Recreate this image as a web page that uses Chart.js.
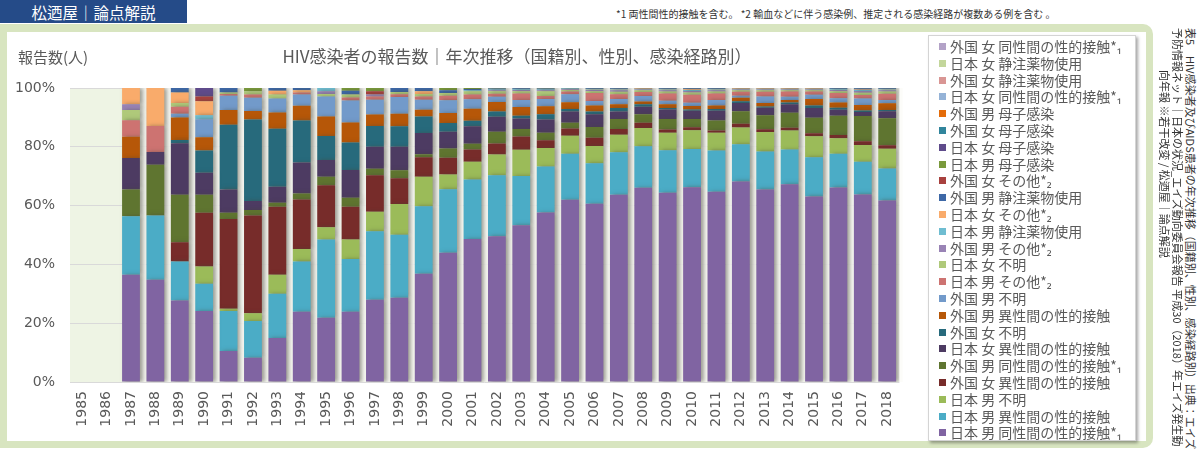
<!DOCTYPE html>
<html><head><meta charset="utf-8">
<script src="https://cdn.jsdelivr.net/npm/chart.js@4/dist/chart.umd.min.js"></script>
<style>
body{margin:0;width:1200px;height:457px;overflow:hidden;background:#fff;font-family:"Noto Sans CJK JP","Noto Sans",sans-serif;position:relative}
#banner{position:absolute;left:0;top:0;width:187px;height:23px;background:#254b88;color:#fff;font-size:15.5px;line-height:24px;text-align:center}
#note{position:absolute;left:616px;top:7px;font-size:10px;line-height:14px;color:#333;white-space:nowrap}
#frame{position:absolute;left:0;top:24px;width:1153px;height:424px;background:#d8e5c0;border-radius:0 10px 10px 0}
#panel{position:absolute;left:7px;top:32px;width:1139px;height:409px;background:#fff}
#chartbox{position:absolute;left:7px;top:34px;width:906px;height:406px}
#title{position:absolute;left:0;width:1034px;top:44px;text-align:center;font-size:17px;line-height:24px;color:#595959;white-space:nowrap}
#ytitle{position:absolute;left:18px;top:46px;font-size:15px;line-height:22px;color:#595959}
#legend{position:absolute;left:928px;top:35px;width:208px;height:406px;background:#fff;border:1px solid #d4d4d4;box-shadow:2px 2px 3px rgba(0,0,0,0.35);box-sizing:border-box;padding-top:2px}
.li{height:16.8px;line-height:16.8px;font-size:14px;color:#595959;white-space:nowrap;position:relative;padding-left:21px}
.sw{position:absolute;left:10px;top:5px;width:7px;height:7px}
.vt{position:absolute;writing-mode:vertical-rl;text-orientation:sideways;font-size:11px;line-height:12px;color:#333;white-space:nowrap}
</style></head>
<body>
<div id="banner">松迺屋｜論点解説</div>
<div id="note">*1 両性間性的接触を含む。 *2 輸血などに伴う感染例、推定される感染経路が複数ある例を含む 。</div>
<div id="frame"></div>
<div id="panel"></div>
<div id="chartbox"><canvas id="c" width="906" height="406"></canvas></div>
<div id="title">HIV感染者の報告数｜年次推移（国籍別、性別、感染経路別）</div>
<div id="ytitle">報告数(人)</div>
<div id="legend"></div>
<div class="vt" style="left:1185px;top:28px">表5　HIV感染者及びAIDS患者の年次推移（国籍別、性別、感染経路別）出典：エイズ</div>
<div class="vt" style="left:1172px;top:28px">予防情報ネット｜日本の状況_エイズ動向委員会報告 平成30（2018）年エイズ発生動</div>
<div class="vt" style="left:1159px;top:70px">向年報 ※若干改変 / 松迺屋｜論点解説</div>
<script>
const years = ['1985','1986','1987','1988','1989','1990','1991','1992','1993','1994','1995','1996','1997','1998','1999','2000','2001','2002','2003','2004','2005','2006','2007','2008','2009','2010','2011','2012','2013','2014','2015','2016','2017','2018'];
const yTicks = [0,20,40,60,80,100];

// shares (per year), bottom of stack first
const jpM_MSM    = [null,null,36.4,34.7,27.6,24.1,10.5,8.3,14.9,23.8,21.8,23.8,27.9,28.8,36.7,43.9,48.3,49.7,53.1,57.4,61.7,59.9,63.6,65.9,64.2,66.1,64.6,68.0,65.3,67.1,63.0,66.1,63.6,61.9];
const jpM_Het    = [null,null,19.8,21.8,13.3,9.2,13.6,12.6,15.0,17.1,26.5,17.9,23.2,21.5,22.9,21.6,20.1,20.8,16.7,15.6,15.6,13.6,14.4,14.1,14.5,13.0,14.0,12.6,12.9,11.8,13.3,11.5,11.1,10.9];
const jpM_Unk    = [null,null,0,0,0,5.9,0.7,2.7,6.5,4.2,4.2,6.6,6.6,10.5,10.0,5.0,6.0,7.1,8.9,6.3,6.1,5.8,5.9,6.2,5.9,6.4,6.0,5.7,6.6,6.5,7.1,5.2,5.7,6.7];
const fgF_Het    = [null,null,0,0,6.5,18.2,30.5,33.5,23.0,16.8,14.2,11.1,12.4,8.8,6.6,5.7,4.1,3.8,4.5,2.6,2.5,2.8,2.0,1.8,1.1,1.0,0.8,1.3,0.9,0.9,1.0,1.1,1.2,1.2];
const fgM_MSM    = [null,null,9.1,17.2,16.1,6.1,2.1,1.9,1.4,2.0,2.9,3.1,2.2,2.7,1.0,3.1,2.0,4.0,2.5,2.5,1.9,3.6,3.4,2.9,3.6,2.8,3.4,4.2,4.8,5.1,5.3,6.6,8.6,9.2];
const jpF_Het    = [null,null,10.7,4.3,17.5,7.5,7.9,3.1,5.4,10.5,5.7,9.4,7.5,8.0,7.2,5.7,5.9,5.1,3.6,4.5,3.8,4.3,2.5,2.5,3.2,2.8,3.3,2.8,2.5,2.9,3.3,2.0,1.4,2.4];
const fgF_Unk    = [null,null,0,0,1.1,7.5,21.9,27.9,19.7,14.3,8.1,9.3,7.0,7.0,5.6,3.0,1.8,1.8,0.9,1.8,0.9,0.9,1.2,0.9,0.5,0.4,0.6,0.6,0.4,0.6,0.9,0.7,0.5,0.4];
const fgM_Het    = [null,null,7.2,0,7.6,4.5,5.0,2.9,5.5,5.0,6.6,6.8,3.9,4.3,2.3,3.4,4.1,3.2,3.0,2.7,2.3,2.0,1.3,0.9,1.3,1.2,1.2,1.2,1.2,0.8,2.2,1.8,1.8,2.3];
const fgM_Unk    = [null,null,0,0,1.3,6.1,4.9,4.6,4.7,3.8,6.8,7.5,5.0,5.7,3.4,4.3,3.2,1.8,2.3,2.5,2.7,1.5,1.8,1.9,1.2,1.1,1.8,0.7,2.2,1.1,1.4,1.4,2.2,1.1];
const jpM_Oth    = [null,null,5.6,8.8,2.3,0,0.6,1.1,0,0.7,0,1.0,1.1,1.0,1.1,1.6,1.6,1.0,2.2,1.0,0.9,2.7,1.6,1.3,2.4,2.7,2.2,1.3,1.6,1.8,1.1,1.8,1.2,2.1];
const jpF_Unk    = [null,null,3.4,0,1.3,0,0.5,1.1,1.4,0,0.9,1.0,0,0.7,0.9,0.9,1.1,0.9,0.8,1.6,0.5,0.6,0.8,0.6,0.7,0.8,0.7,0.5,0.5,0.4,0.4,0.6,0.8,0.8];
const fgM_Oth    = [null,null,2.0,0,0,0,0,0,0,0,0.9,0,0.7,0,0,0,0,0.3,0.4,0.3,0.3,0.4,0.5,0.3,0.4,0.5,0.4,0.3,0.3,0.3,0.3,0.4,0.6,0.4];
const jpM_IDU    = [null,null,0,0,0,1.4,0,0,0,0,1.1,0,0,0,0,0,0.3,0.3,0.3,0.3,0.2,0.2,0.3,0.2,0.3,0.3,0.3,0.2,0.2,0.2,0.2,0.3,0.3,0.3];
const jpF_Oth    = [null,null,5.5,12.9,3.6,4.7,0,0,1.3,0.7,0,0,0,0,0.9,0,0,0,0,0,0,0.2,0.2,0.1,0.2,0.3,0.2,0.1,0.1,0.1,0.1,0.1,0.2,0.2];
const fgM_IDU    = [null,null,0,0,1.5,0,1.5,0,0.9,0.8,0,1.3,0,1.4,1.1,0.9,0.5,0.3,0.3,0.3,0.1,0.2,0.2,0.1,0.2,0.3,0.2,0.1,0.1,0.1,0.1,0.2,0.4,0.2];
const fgF_Oth    = [null,null,0,0,0,1.6,0,0,0,0,0,0,1.1,0,0,0,0,0,0,0,0,0,0,0,0,0,0,0,0,0,0,0,0,0];
const jpM_MTC    = [null,null,0,0,0,0,0,1.1,0,0,0,0.9,1.1,0,0,0.8,0.3,0.2,0.1,0.2,0.1,0.1,0.1,0.1,0.1,0.1,0.1,0.1,0.1,0.1,0.1,0.1,0.1,0.1];
const jpF_MTC    = [null,null,0,0,0,2.9,0,0,0,0,0,0,0,0,0,0,0,0,0,0,0,0,0,0,0,0,0,0,0,0,0,0,0,0];
const fgF_MTC    = [null,null,0,0,0,0,0,0,0,0,0,0,0,0,0,0,0,0,0,0,0,0,0,0,0,0,0,0,0,0,0,0,0,0];
const fgM_MTC    = [null,null,0,0,0,0,0,0,0,0,0,0,0,0,0,0,0,0,0,0,0,0,0,0,0,0,0,0,0,0,0,0,0,0];
const jpF_MSM    = [null,null,0,0,0,0,0,0,0,0,0,0,0,0,0,0,0,0,0,0,0,0,0,0,0,0,0,0,0,0,0,0,0,0];
const fgF_IDU    = [null,null,0,0,0,0,0,0,0,0,0,0,0,0,0,0,0,0,0,0,0,0,0,0,0,0,0,0,0,0,0,0,0,0];
const jpF_IDU    = [null,null,0,0,0,0,0,0,0,0,0,0,0,0,0,0,0,0,0,0,0,0,0,0,0,0,0,0,0,0,0,0,0,0];
const fgF_MSM    = [null,null,0,0,0,0,0,0,0,0,0,0,0,0,0,0,0,0,0,0,0,0,0,0,0,0,0,0,0,0,0,0,0,0];

const seriesLabels = ['日本 男 同性間の性的接触*₁','日本 男 異性間の性的接触','日本 男 不明','外国 女 異性間の性的接触','外国 男 同性間の性的接触*₁','日本 女 異性間の性的接触','外国 女 不明','外国 男 異性間の性的接触','外国 男 不明','日本 男 その他*₂','日本 女 不明','外国 男 その他*₂','日本 男 静注薬物使用','日本 女 その他*₂','外国 男 静注薬物使用','外国 女 その他*₂','日本 男 母子感染','日本 女 母子感染','外国 女 母子感染','外国 男 母子感染','日本 女 同性間の性的接触*₁','外国 女 静注薬物使用','日本 女 静注薬物使用','外国 女 同性間の性的接触*₁'];
const seriesValues = [jpM_MSM,jpM_Het,jpM_Unk,fgF_Het,fgM_MSM,jpF_Het,fgF_Unk,fgM_Het,fgM_Unk,jpM_Oth,jpF_Unk,fgM_Oth,jpM_IDU,jpF_Oth,fgM_IDU,fgF_Oth,jpM_MTC,jpF_MTC,fgF_MTC,fgM_MTC,jpF_MSM,fgF_IDU,jpF_IDU,fgF_MSM];
const seriesColors = ['#8064a2','#4bacc6','#9bbb59','#772c2a','#5f7530','#4d3b62','#276a7c','#b65708','#729aca','#cd7371','#afc97a','#9983b5','#6fbdd1','#f9ab6b','#3e68a6','#a8413e','#7a9a3c','#5f4b8b','#31859c','#e46c0a','#95b3d7','#d99694','#c3d69b','#b3a2c7'];

// 100% stacked: each year's values shown as share of the year's total
const totals = years.map((_, i) => seriesValues.reduce((a, s) => a + (s[i] || 0), 0));
const datasets = seriesValues.map((s, k) => ({
  label: seriesLabels[k],
  data: s.map((v, i) => v == null ? null : v / totals[i] * 100),
  backgroundColor: seriesColors[k],
  borderWidth: 0,
  categoryPercentage: 1.0,
  barPercentage: 0.73
}));

const bgPlugin = {
  id: 'bg',
  beforeDraw(chart) {
    const {ctx, chartArea: a} = chart;
    ctx.save(); ctx.fillStyle = '#eef4e4';
    ctx.fillRect(a.left, a.top, a.right - a.left, a.bottom - a.top);
    ctx.restore();
  },
  beforeDatasetsDraw(chart) {
    const {ctx, chartArea: a} = chart;
    const meta = chart.getDatasetMeta(0);
    const cat = (a.right - a.left) / years.length;
    ctx.save();
    ctx.fillStyle = 'rgba(252,252,248,0.85)';
    meta.data.forEach((bar, i) => {
      if (!totals[i]) return;
      const x0 = bar.x + bar.width / 2;
      ctx.fillRect(x0, a.top, cat - bar.width, a.bottom - a.top);
    });
    ctx.restore();
    ctx.save();
    ctx.shadowColor = 'rgba(70,70,55,0.5)'; ctx.shadowBlur = 4; ctx.shadowOffsetX = 3; ctx.shadowOffsetY = 0;
  },
  afterDatasetsDraw(chart) { chart.ctx.restore(); }
};

const tickFont = {family: '"DejaVu Sans"', size: 14};
const chart = new Chart(document.getElementById('c'), {
  type: 'bar',
  data: {labels: years, datasets},
  options: {
    responsive: false, animation: false, devicePixelRatio: 1,
    layout: {padding: {top: 54, right: 0, left: 0, bottom: 0}},
    plugins: {legend: {display: false}, title: {display: false}, tooltip: {enabled: false}},
    scales: {
      x: {stacked: true, grid: {display: false, drawTicks: false}, border: {display: false},
          ticks: {minRotation: 90, maxRotation: 90, padding: 9, color: '#595959', font: tickFont, autoSkip: false},
          afterFit(s) { s.height = 58; }},
      y: {stacked: true, min: 0, max: 100, grid: {color: '#d9d9d9', drawTicks: false}, border: {display: false},
          afterBuildTicks(s) { s.ticks = yTicks.map(v => ({value: v})); },
          ticks: {padding: 15, color: '#595959', font: tickFont, callback: v => v + '%'},
          afterFit(s) { s.width = 63; }}
    }
  },
  plugins: [bgPlugin]
});

// legend (top series first)
const lg = document.getElementById('legend');
for (let k = seriesLabels.length - 1; k >= 0; k--) {
  const d = document.createElement('div'); d.className = 'li';
  const sw = document.createElement('span'); sw.className = 'sw'; sw.style.background = seriesColors[k];
  d.appendChild(sw); d.appendChild(document.createTextNode(seriesLabels[k]));
  lg.appendChild(d);
}
</script>
</body></html>
